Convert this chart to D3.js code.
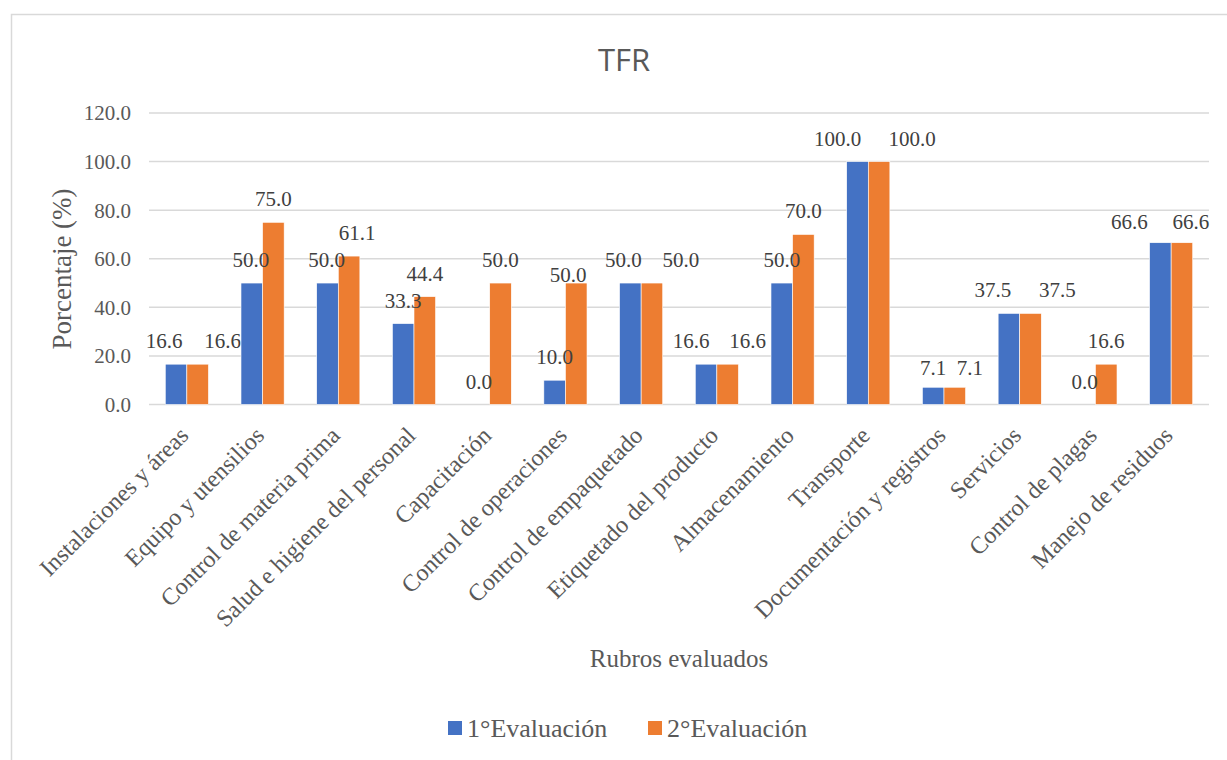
<!DOCTYPE html>
<html>
<head>
<meta charset="utf-8">
<script src="https://cdn.jsdelivr.net/npm/d3@7"></script>
<style>
  html, body { margin: 0; padding: 0; background: #fff; }
  svg { display: block; }
</style>
</head>
<body>
<svg id="chart" width="1227" height="760"></svg>
<script>
// Rubros evaluados y porcentajes de cumplimiento por evaluación
const categories = [
  "Instalaciones y áreas",
  "Equipo y utensilios",
  "Control de materia prima",
  "Salud e higiene del personal",
  "Capacitación",
  "Control de operaciones",
  "Control de empaquetado",
  "Etiquetado del producto",
  "Almacenamiento",
  "Transporte",
  "Documentación y registros",
  "Servicios",
  "Control de plagas",
  "Manejo de residuos"
];
const seriesNames = ["1°Evaluación", "2°Evaluación"];
const eval1 = [16.6, 50.0, 50.0, 33.3, 0.0, 10.0, 50.0, 16.6, 50.0, 100.0, 7.1, 37.5, 0.0, 66.6];
const eval2 = [16.6, 75.0, 61.1, 44.4, 50.0, 50.0, 50.0, 16.6, 70.0, 100.0, 7.1, 37.5, 16.6, 66.6];
const yTicks = [0, 20, 40, 60, 80, 100, 120];

const colors = ["#4472C4", "#ED7D31"];
const serif = "'Liberation Serif', 'Times New Roman', serif";

// Hand-placed offsets for the value labels (dx, dy in px), one pair per bar
const labelNudge = [
  [[-12, 0], [25, 0]],
  [[-1, 0], [0, 0]],
  [[-1, 0], [8, 0]],
  [[0, 0], [0, 0]],
  [[0, 0], [0, 0]],
  [[0, 0], [-8, 15]],
  [[-7, 0], [29, 0]],
  [[-15, 0], [20, 0]],
  [[0, 0], [0, 0]],
  [[-20, 0], [33, 0]],
  [[0, 4], [15, 4]],
  [[-16, 0], [27, 0]],
  [[0, 0], [0, 0]],
  [[-31, 2], [9, 2]]
];

const svg = d3.select("#chart");

// Outer chart frame
svg.append("rect")
  .attr("x", 11.5).attr("y", 14.5)
  .attr("width", 1240).attr("height", 780)
  .attr("fill", "#fff").attr("stroke", "#D9D9D9").attr("stroke-width", 1.5);

const plot = { left: 149, right: 1209, top: 113, bottom: 404.5 };

const x = d3.scaleBand()
  .domain(categories)
  .range([plot.left, plot.right])
  .paddingInner(0.43)
  .paddingOuter(0.215);

const xs = d3.scaleBand()
  .domain([0, 1])
  .range([0, x.bandwidth()]);

const y = d3.scaleLinear()
  .domain([0, 120])
  .range([plot.bottom, plot.top]);

// Gridlines
svg.append("g")
  .selectAll("line")
  .data(yTicks)
  .join("line")
  .attr("x1", plot.left).attr("x2", plot.right)
  .attr("y1", d => y(d)).attr("y2", d => y(d))
  .attr("stroke", "#D9D9D9").attr("stroke-width", 1.5);

// Y axis tick labels
svg.append("g")
  .selectAll("text")
  .data(yTicks)
  .join("text")
  .attr("x", 131)
  .attr("y", d => y(d))
  .attr("dy", "0.35em")
  .attr("text-anchor", "end")
  .style("font-family", serif)
  .attr("font-size", 21)
  .attr("fill", "#595959")
  .text(d => d3.format(".1f")(d));

// Bars
const rows = categories.map((c, i) => ({ cat: c, i, vals: [eval1[i], eval2[i]] }));

const groups = svg.append("g")
  .selectAll("g")
  .data(rows)
  .join("g")
  .attr("transform", d => `translate(${x(d.cat)},0)`);

groups.selectAll("rect")
  .data(d => d.vals.map((v, s) => ({ v, s })))
  .join("rect")
  .attr("x", d => xs(d.s))
  .attr("width", xs.bandwidth())
  .attr("y", d => y(d.v))
  .attr("height", d => y(0) - y(d.v))
  .attr("fill", d => colors[d.s])
  .attr("stroke", "#fff")
  .attr("stroke-width", 0.6);

// Value labels above bars
groups.selectAll("text")
  .data(d => d.vals.map((v, s) => ({ v, s, n: labelNudge[d.i][s] })))
  .join("text")
  .attr("x", d => xs(d.s) + xs.bandwidth() / 2 + d.n[0])
  .attr("y", d => y(d.v) - 16 + d.n[1])
  .attr("text-anchor", "middle")
  .style("font-family", serif)
  .attr("font-size", 21)
  .attr("fill", "#404040")
  .text(d => d3.format(".1f")(d.v));

// Category labels, rotated
svg.append("g")
  .selectAll("text")
  .data(categories)
  .join("text")
  .attr("transform", d => `translate(${x(d) + x.bandwidth() / 2 + 3},437) rotate(-45)`)
  .attr("text-anchor", "end")
  .style("font-family", serif)
  .attr("font-size", 24)
  .attr("fill", "#595959")
  .text(d => d);

// Title
svg.append("text")
  .attr("x", 624).attr("y", 71)
  .attr("text-anchor", "middle")
  .style("font-family", "'Open Sans', 'Noto Sans', sans-serif")
  .attr("font-size", 31)
  .attr("fill", "#595959")
  .text("TFR");

// Axis titles
svg.append("text")
  .attr("transform", "translate(71,269) rotate(-90)")
  .attr("text-anchor", "middle")
  .style("font-family", serif)
  .attr("font-size", 27)
  .attr("fill", "#595959")
  .text("Porcentaje (%)");

svg.append("text")
  .attr("x", 679).attr("y", 667)
  .attr("text-anchor", "middle")
  .style("font-family", serif)
  .attr("font-size", 25)
  .attr("fill", "#595959")
  .text("Rubros evaluados");

// Legend
const legendX = [448, 648];
const legend = svg.append("g")
  .selectAll("g")
  .data(seriesNames)
  .join("g")
  .attr("transform", (d, i) => `translate(${legendX[i]},0)`);

legend.append("rect")
  .attr("x", 0).attr("y", 721)
  .attr("width", 14).attr("height", 14)
  .attr("fill", (d, i) => colors[i]);

legend.append("text")
  .attr("x", 19).attr("y", 737)
  .style("font-family", serif)
  .attr("font-size", 26)
  .attr("fill", "#595959")
  .text(d => d);
</script>
</body>
</html>
